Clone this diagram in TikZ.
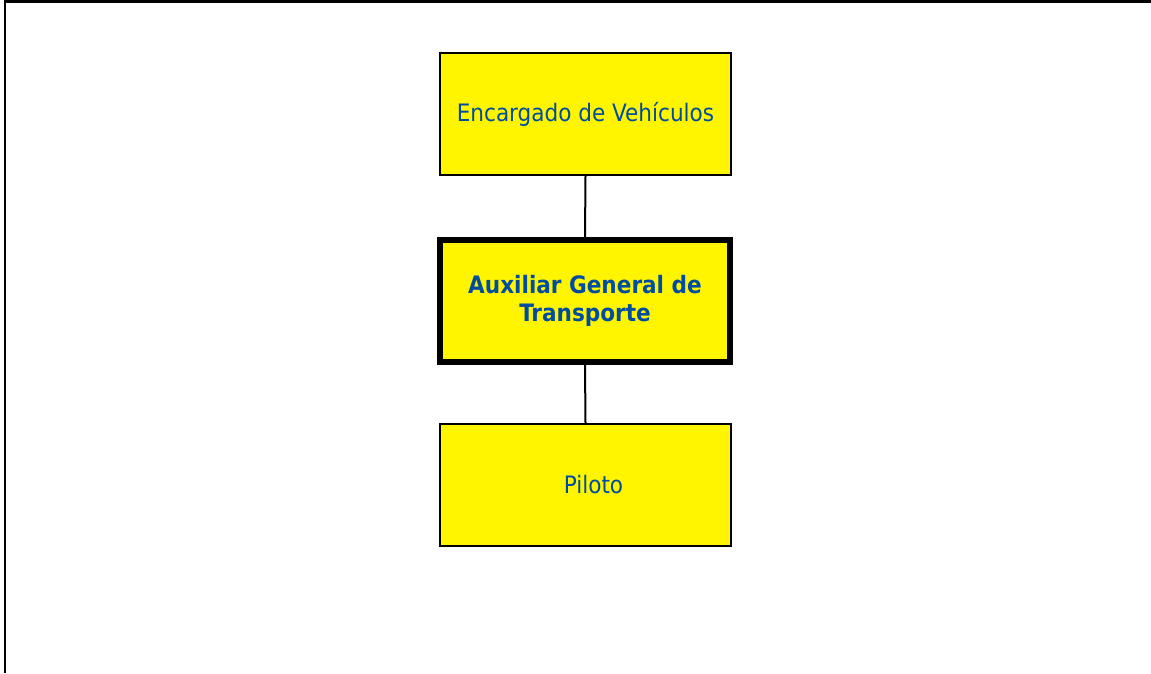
\documentclass[tikz,border=0pt]{standalone}
\usepackage{fontspec}
\setmainfont{DejaVu Sans Condensed}
\definecolor{boxyellow}{RGB}{255,245,0}
\definecolor{textblue}{RGB}{0,76,160}
\tikzset{
  unitbox/.style={draw=black, fill=boxyellow, line width=2pt, minimum width=291pt, minimum height=122pt, inner sep=0pt, align=center, text=textblue, font=\fontsize{24}{28}\selectfont},
  mainbox/.style={unitbox, line width=6pt, minimum width=290pt, minimum height=122pt, font=\fontsize{24}{28}\selectfont\bfseries},
  link/.style={draw=black, line width=2pt},
  frame/.style={draw=black, line width=2.5pt}
}
\begin{document}
\begin{tikzpicture}[x=1pt,y=1pt]
\useasboundingbox (0,0) rectangle (1151,-673);
\draw[frame] (5,-673) -- (5,-1.25) -- (1151,-1.25);
\node[unitbox] (enc) at (585.5,-114) {Encargado de Vehículos};
\node[mainbox] (aux) at (585,-301) {Auxiliar General de\\Transporte};
\node[unitbox] (pil) at (585.5,-485) {\hspace*{16pt}Piloto};
\draw[link] (enc.south) -- (aux.north);
\draw[link] (aux.south) -- (pil.north);
\end{tikzpicture}
\end{document}
